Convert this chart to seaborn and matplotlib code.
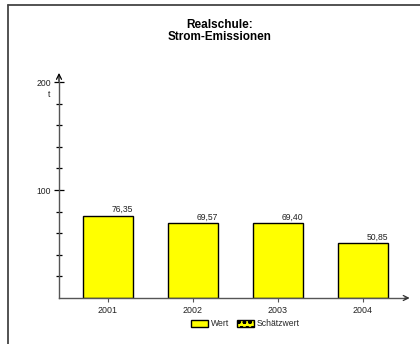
import numpy as np
import pandas as pd
import matplotlib
matplotlib.use("Agg")
import matplotlib.pyplot as plt
import seaborn as sns
from matplotlib.patches import Patch
from matplotlib.lines import Line2D

years = ["2001", "2002", "2003", "2004"]
werte = [76.35, 69.57, 69.40, 50.85]
wert_labels = ["76,35", "69,57", "69,40", "50,85"]
title = "Realschule:\nStrom-Emissionen"
unit = "t"

sns.set_style("white")
plt.rcParams['font.family'] = ['Liberation Sans', 'DejaVu Sans']

df = pd.DataFrame({"jahr": years, "wert": werte})

fig = plt.figure(figsize=(4.2, 3.44), dpi=100)
ax = fig.add_axes([59 / 420, 46 / 344, (405.5 - 59) / 420, 216 / 344])

sns.barplot(data=df, x="jahr", y="wert", color="#ffff00", edgecolor="black",
            linewidth=1.0, width=0.59, saturation=1, ax=ax)

ax.set_xlim(-0.576, 3.5)
ax.set_ylim(0, 200)
ax.set_xlabel("")
ax.set_ylabel("")

for i, (v, lab) in enumerate(zip(werte, wert_labels)):
    ax.text(i + 0.295, v + 1.2, lab, ha="right", va="bottom", fontsize=6.2, color="#222222")

# axes look
for s in ["top", "right"]:
    ax.spines[s].set_visible(False)
ax.spines["left"].set_color("#555555")
ax.spines["bottom"].set_color("#555555")
ax.spines["left"].set_linewidth(1.0)
ax.spines["bottom"].set_linewidth(1.0)

ax.set_yticks([100, 200])
ax.set_yticklabels(["100", "200"])
ax.set_yticks(np.arange(20, 200, 20), minor=True)
ax.tick_params(axis="y", which="major", direction="inout", length=7, width=0.9,
               color="black", labelsize=6.2, labelcolor="#222222", pad=2, left=True)
ax.tick_params(axis="y", which="minor", direction="inout", length=5, width=0.9,
               color="black", left=True)
ax.tick_params(axis="x", which="major", direction="out", length=3, width=0.8,
               color="#555555", labelsize=6.4, labelcolor="#222222", pad=3, bottom=True)

ax.text(-0.025, 188.5, unit, transform=ax.get_yaxis_transform(), ha="right",
        va="center", fontsize=6.2, color="#222222")

# axis arrows
ax.annotate("", xy=(0, 1.055), xytext=(0, 0.99), xycoords="axes fraction",
            arrowprops=dict(arrowstyle="->", color="black", lw=0.9, mutation_scale=9))
ax.annotate("", xy=(1.02, 0), xytext=(0.99, 0), xycoords="axes fraction",
            arrowprops=dict(arrowstyle="->", color="#333333", lw=0.9, mutation_scale=9))

fig.text(220 / 420, 1 - 31 / 344, title, ha="center", va="center",
         fontsize=8.5, fontweight="bold", linespacing=1.1, color="black")

handles = [Patch(facecolor="#ffff00", edgecolor="black", linewidth=1.0, label="Wert"),
           Patch(facecolor="#ffff00", edgecolor="black", linewidth=1.0, hatch="ooo",
                 label="Schätzwert")]
fig.legend(handles=handles, loc="center", bbox_to_anchor=(245 / 420, 1 - 324 / 344),
           ncol=2, frameon=False, fontsize=6.2, handlelength=2.0, handleheight=0.7,
           handletextpad=0.3, columnspacing=0.9, borderaxespad=0)

# frame lines on left and top
fig.add_artist(Line2D([7.5 / 420, 7.5 / 420], [0, 1 - 5 / 344], color="#444444", lw=1.3))
fig.add_artist(Line2D([7.5 / 420, 1], [1 - 5 / 344, 1 - 5 / 344], color="#444444", lw=1.3))

fig.savefig("out.png", dpi=100)
